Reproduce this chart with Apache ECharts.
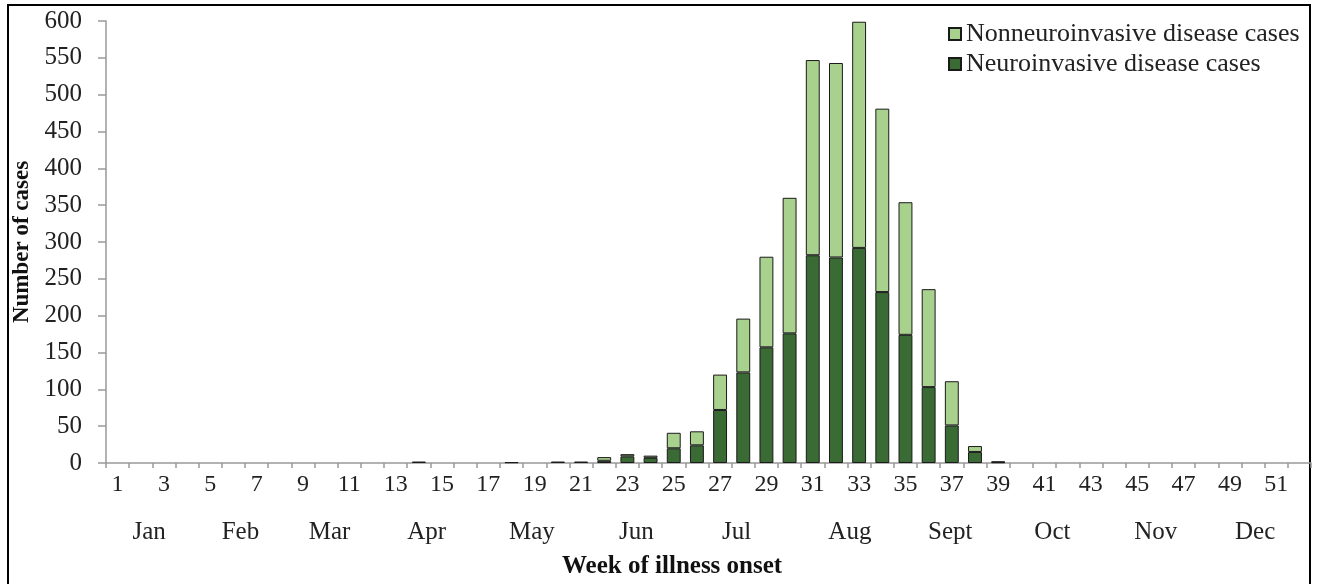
<!DOCTYPE html>
<html>
<head>
<meta charset="utf-8">
<script src="https://cdn.jsdelivr.net/npm/echarts@6/dist/echarts.min.js"></script>
<style>
  html, body { margin: 0; padding: 0; background: #fff; }
  #chart { width: 1323px; height: 584px; }
</style>
</head>
<body>
<div id="chart"></div>
<script>
// week of illness onset, 1..52
const weeks = Array.from({ length: 52 }, (_, i) => String(i + 1))

// cases per week (weeks 1..52)
const neuroCases = [
  0, 0, 0, 0, 0, 0, 0, 0, 0, 0, 0, 0, 0, 2, 0, 0, 0, 1, 0, 2,
  2, 3, 9, 7, 20, 24, 72, 123, 157, 176, 282, 279, 292, 232, 174, 103,
  51, 15, 1, 0, 0, 0, 0, 0, 0, 0, 0, 0, 0, 0, 0, 0
]
const nonNeuroCases = [
  0, 0, 0, 0, 0, 0, 0, 0, 0, 0, 0, 0, 0, 0, 0, 0, 0, 0, 0, 0,
  0, 5, 3, 3, 21, 19, 48, 73, 123, 184, 265, 264, 307, 249, 180, 133,
  60, 8, 1, 0, 0, 0, 0, 0, 0, 0, 0, 0, 0, 0, 0, 0
]

// month labels under the week numbers, placed in week units
const months = ['Jan', 'Feb', 'Mar', 'Apr', 'May', 'Jun', 'Jul', 'Aug', 'Sept', 'Oct', 'Nov', 'Dec']
const monthAt = [1.86, 5.8, 9.65, 13.84, 18.38, 22.89, 27.21, 32.1, 36.43, 40.84, 45.3, 49.59]

const serif = '"Liberation Serif", "Times New Roman", serif'
const lightGreen = '#a9d18e'
const darkGreen = '#3b6b35'

const chart = echarts.init(document.getElementById('chart'))

chart.setOption({
  animation: false,
  textStyle: { fontFamily: serif },
  title: {
    text: 'Week of illness onset',
    left: 562,
    top: 554,
    padding: 0,
    textStyle: { fontFamily: serif, fontSize: 25, fontWeight: 'bold', color: '#111' },
  },
  legend: {
    orient: 'vertical',
    left: 943,
    top: 16,
    icon: 'rect',
    itemWidth: 12,
    itemHeight: 12,
    itemGap: 4,
    data: ['Nonneuroinvasive disease cases', 'Neuroinvasive disease cases'],
    textStyle: { fontFamily: serif, fontSize: 26, color: '#222' },
  },
  grid: { left: 106, right: 12, top: 21, bottom: 121 },
  xAxis: [
    {
      type: 'category',
      data: weeks,
      axisLine: { lineStyle: { color: '#999', width: 1.5 } },
      axisTick: { show: true, interval: 0, length: 5, lineStyle: { color: '#999', width: 1.5 } },
      axisLabel: { interval: 1, margin: 10, fontSize: 24, color: '#222', fontFamily: serif },
      splitLine: { show: false },
    },
    {
      type: 'value',
      min: 0,
      max: 52,
      position: 'bottom',
      offset: 49,
      axisLine: { show: false },
      axisTick: { show: false },
      splitLine: { show: false },
      axisLabel: {
        customValues: monthAt,
        fontSize: 25,
        color: '#222',
        fontFamily: serif,
        formatter: v => months[monthAt.indexOf(v)] || '',
      },
    },
  ],
  yAxis: {
    type: 'value',
    min: 0,
    max: 600,
    interval: 50,
    name: 'Number of cases',
    nameLocation: 'middle',
    nameGap: 72,
    nameTextStyle: { fontFamily: serif, fontSize: 23, fontWeight: 'bold', color: '#111' },
    axisLine: { show: true, lineStyle: { color: '#999', width: 1.5 } },
    axisTick: { show: true, length: 8, lineStyle: { color: '#999', width: 1.5 } },
    axisLabel: { margin: 24, fontSize: 25, color: '#222', fontFamily: serif },
    splitLine: { show: false },
  },
  series: [
    {
      name: 'Neuroinvasive disease cases',
      type: 'bar',
      stack: 'cases',
      barWidth: '60%',
      data: neuroCases.map(v => (v ? v : '-')),
      itemStyle: { color: darkGreen, borderColor: '#1a1a1a', borderWidth: 1 },
    },
    {
      name: 'Nonneuroinvasive disease cases',
      type: 'bar',
      stack: 'cases',
      barWidth: '60%',
      data: nonNeuroCases.map(v => (v ? v : '-')),
      itemStyle: { color: lightGreen, borderColor: '#1a1a1a', borderWidth: 1 },
    },
  ],
  graphic: [
    {
      type: 'rect',
      silent: true,
      shape: { x: 8, y: 5, width: 1302, height: 600 },
      style: { fill: null, stroke: '#000', lineWidth: 2 },
    },
  ],
})
</script>
</body>
</html>
